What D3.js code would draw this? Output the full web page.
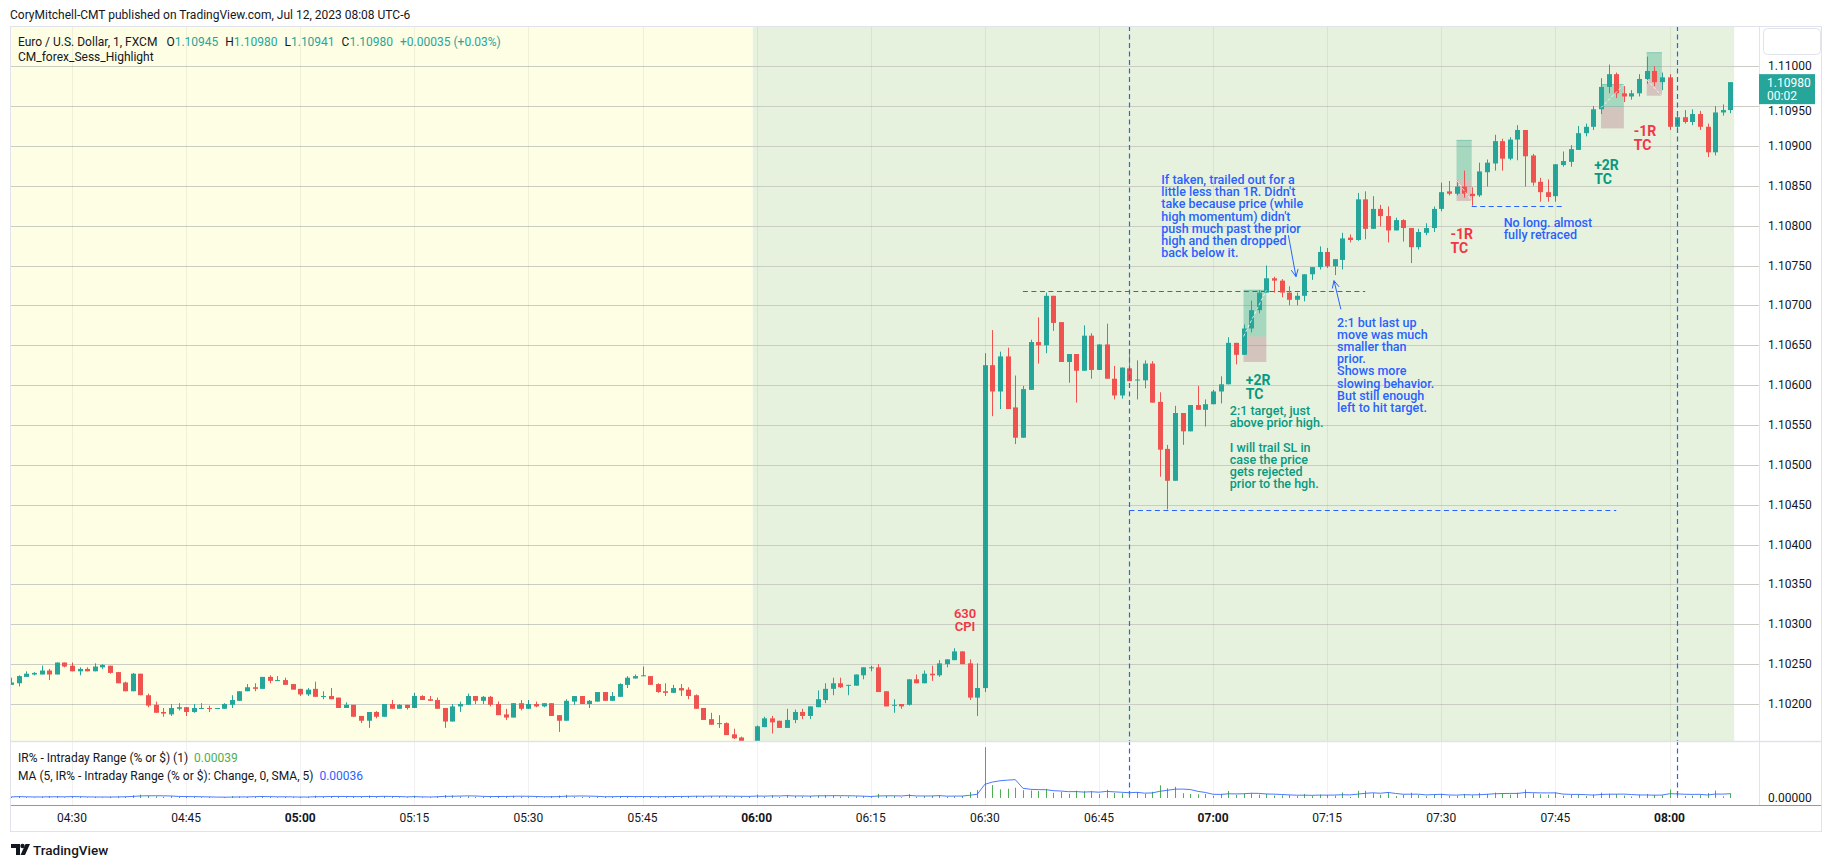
<!DOCTYPE html>
<html><head><meta charset="utf-8">
<script src="https://cdn.jsdelivr.net/npm/d3@7/dist/d3.min.js"></script>
<style>
html,body{margin:0;padding:0;background:#fff;}
svg{display:block;font-family:Roboto,"Liberation Sans",sans-serif;}
</style></head><body>
<svg id="chart" width="1835" height="867"></svg>
<script>
// ================= DATA =================
const barStart = "04:22"; // first 1-minute bar; bars are consecutive minutes
const opens = [
1.10224,1.10226,1.10234,1.10237,1.10237,1.10242,1.10237,1.10252,1.10248,1.10241,
1.10244,1.10241,1.10246,1.10248,1.10240,1.10227,1.10216,1.10238,1.10211,1.10199,
1.10190,1.10187,1.10194,1.10196,1.10190,1.10194,1.10195,1.10194,1.10194,1.10199,
1.10204,1.10216,1.10221,1.10219,1.10234,1.10229,1.10230,1.10225,1.10219,1.10212,
1.10219,1.10209,1.10210,1.10208,1.10195,1.10199,1.10185,1.10179,1.10190,1.10184,
1.10200,1.10194,1.10199,1.10195,1.10210,1.10206,1.10205,1.10195,1.10178,1.10197,
1.10199,1.10210,1.10204,1.10209,1.10200,1.10187,1.10183,1.10201,1.10194,1.10200,
1.10197,1.10201,1.10186,1.10179,1.10203,1.10210,1.10200,1.10203,1.10215,1.10204,
1.10209,1.10224,1.10232,1.10235,1.10235,1.10225,1.10216,1.10214,1.10220,1.10218,
1.10211,1.10195,1.10181,1.10175,1.10176,1.10162,1.10158,1.10150,1.10146,1.10171,
1.10182,1.10179,1.10170,1.10180,1.10190,1.10185,1.10196,1.10205,1.10219,1.10226,
1.10223,1.10223,1.10236,1.10245,1.10246,1.10216,1.10198,1.10200,1.10199,1.10231,
1.10226,1.10238,1.10236,1.10250,1.10255,1.10266,1.10251,1.10208,1.10220,1.10625,
1.10592,1.10636,1.10572,1.10534,1.10594,1.10654,1.10650,1.10712,1.10679,1.10629,
1.10639,1.10618,1.10662,1.10619,1.10651,1.10608,1.10587,1.10621,1.10606,1.10606,
1.10627,1.10579,1.10520,1.10480,1.10565,1.10542,1.10575,1.10569,1.10576,1.10592,
1.10601,1.10653,1.10638,1.10671,1.10694,1.10716,1.10734,1.10731,1.10716,1.10707,
1.10712,1.10739,1.10748,1.10767,1.10749,1.10757,1.10785,1.10782,1.10833,1.10796,
1.10821,1.10812,1.10794,1.10807,1.10797,1.10773,1.10791,1.10797,1.10821,1.10843,
1.10840,1.10849,1.10840,1.10838,1.10867,1.10878,1.10906,1.10884,1.10908,1.10920,
1.10888,1.10855,1.10842,1.10837,1.10876,1.10880,1.10895,1.10916,1.10924,1.10946,
1.10974,1.10990,1.10966,1.10962,1.10966,1.10984,1.10994,1.10980,1.10986,1.10924,
1.10936,1.10930,1.10940,1.10924,1.10892,1.10942,1.10945];
const highs = [
1.10233,1.10236,1.10241,1.10240,1.10248,1.10244,1.10252,1.10252,1.10252,1.10246,
1.10246,1.10251,1.10250,1.10248,1.10240,1.10228,1.10239,1.10238,1.10213,1.10203,
1.10195,1.10200,1.10201,1.10196,1.10200,1.10201,1.10198,1.10195,1.10201,1.10211,
1.10216,1.10225,1.10226,1.10234,1.10236,1.10235,1.10233,1.10225,1.10219,1.10220,
1.10228,1.10216,1.10220,1.10208,1.10202,1.10199,1.10185,1.10190,1.10191,1.10200,
1.10205,1.10200,1.10199,1.10214,1.10211,1.10210,1.10208,1.10195,1.10200,1.10203,
1.10213,1.10210,1.10210,1.10210,1.10203,1.10194,1.10201,1.10205,1.10205,1.10203,
1.10201,1.10201,1.10186,1.10206,1.10210,1.10210,1.10205,1.10215,1.10215,1.10215,
1.10226,1.10235,1.10237,1.10247,1.10235,1.10226,1.10226,1.10224,1.10225,1.10221,
1.10212,1.10195,1.10189,1.10186,1.10177,1.10169,1.10159,1.10152,1.10173,1.10184,
1.10185,1.10179,1.10194,1.10193,1.10194,1.10197,1.10217,1.10226,1.10233,1.10233,
1.10224,1.10237,1.10246,1.10248,1.10250,1.10216,1.10206,1.10200,1.10231,1.10237,
1.10242,1.10248,1.10255,1.10256,1.10270,1.10266,1.10256,1.10251,1.10640,1.10669,
1.10642,1.10647,1.10612,1.10599,1.10657,1.10685,1.10716,1.10712,1.10679,1.10639,
1.10639,1.10675,1.10665,1.10651,1.10677,1.10624,1.10622,1.10643,1.10631,1.10631,
1.10630,1.10591,1.10525,1.10574,1.10565,1.10575,1.10599,1.10582,1.10594,1.10611,
1.10660,1.10653,1.10676,1.10706,1.10719,1.10750,1.10736,1.10733,1.10724,1.10716,
1.10739,1.10748,1.10774,1.10772,1.10758,1.10791,1.10789,1.10841,1.10843,1.10837,
1.10826,1.10824,1.10810,1.10808,1.10797,1.10796,1.10803,1.10824,1.10854,1.10856,
1.10857,1.10869,1.10848,1.10879,1.10883,1.10914,1.10909,1.10911,1.10926,1.10920,
1.10890,1.10860,1.10858,1.10877,1.10893,1.10901,1.10925,1.10928,1.10950,1.10985,
1.11002,1.10992,1.10975,1.10970,1.10990,1.11012,1.11000,1.10992,1.10990,1.10940,
1.10945,1.10946,1.10944,1.10928,1.10950,1.10952,1.10980];
const lows = [
1.10224,1.10222,1.10234,1.10236,1.10237,1.10230,1.10237,1.10246,1.10241,1.10236,
1.10241,1.10241,1.10244,1.10238,1.10226,1.10216,1.10216,1.10211,1.10196,1.10189,
1.10184,1.10185,1.10192,1.10185,1.10189,1.10194,1.10190,1.10194,1.10194,1.10195,
1.10204,1.10216,1.10216,1.10219,1.10226,1.10229,1.10224,1.10218,1.10210,1.10210,
1.10209,1.10206,1.10206,1.10195,1.10195,1.10184,1.10176,1.10170,1.10182,1.10184,
1.10194,1.10194,1.10193,1.10195,1.10205,1.10204,1.10194,1.10170,1.10178,1.10190,
1.10199,1.10200,1.10200,1.10197,1.10186,1.10180,1.10183,1.10192,1.10194,1.10196,
1.10196,1.10185,1.10165,1.10179,1.10199,1.10200,1.10195,1.10203,1.10204,1.10204,
1.10209,1.10220,1.10232,1.10235,1.10224,1.10214,1.10210,1.10214,1.10210,1.10206,
1.10194,1.10180,1.10174,1.10170,1.10161,1.10156,1.10148,1.10140,1.10144,1.10171,
1.10163,1.10170,1.10170,1.10176,1.10181,1.10181,1.10196,1.10201,1.10211,1.10220,
1.10211,1.10223,1.10231,1.10241,1.10215,1.10197,1.10189,1.10194,1.10198,1.10226,
1.10226,1.10229,1.10234,1.10246,1.10255,1.10250,1.10205,1.10185,1.10215,1.10561,
1.10570,1.10570,1.10526,1.10534,1.10594,1.10627,1.10640,1.10668,1.10629,1.10603,
1.10578,1.10618,1.10608,1.10619,1.10608,1.10582,1.10583,1.10605,1.10582,1.10596,
1.10578,1.10485,1.10444,1.10480,1.10525,1.10542,1.10569,1.10548,1.10576,1.10577,
1.10601,1.10626,1.10638,1.10666,1.10690,1.10716,1.10716,1.10710,1.10700,1.10700,
1.10705,1.10732,1.10745,1.10747,1.10738,1.10745,1.10779,1.10781,1.10783,1.10796,
1.10799,1.10779,1.10794,1.10780,1.10753,1.10770,1.10788,1.10792,1.10818,1.10838,
1.10838,1.10835,1.10825,1.10836,1.10849,1.10869,1.10869,1.10882,1.10882,1.10849,
1.10850,1.10830,1.10830,1.10830,1.10874,1.10874,1.10895,1.10912,1.10920,1.10940,
1.10966,1.10960,1.10955,1.10958,1.10962,1.10978,1.10975,1.10970,1.10920,1.10918,
1.10928,1.10926,1.10920,1.10886,1.10888,1.10938,1.10941];
const closes = [
1.10227,1.10235,1.10238,1.10239,1.10242,1.10237,1.10252,1.10247,1.10241,1.10244,
1.10241,1.10247,1.10249,1.10239,1.10226,1.10216,1.10238,1.10211,1.10198,1.10189,
1.10188,1.10195,1.10196,1.10190,1.10195,1.10195,1.10194,1.10195,1.10200,1.10205,
1.10216,1.10221,1.10219,1.10234,1.10229,1.10230,1.10224,1.10218,1.10212,1.10218,
1.10209,1.10210,1.10206,1.10195,1.10199,1.10184,1.10179,1.10190,1.10184,1.10200,
1.10194,1.10199,1.10195,1.10210,1.10205,1.10204,1.10194,1.10178,1.10197,1.10200,
1.10210,1.10204,1.10209,1.10199,1.10186,1.10183,1.10201,1.10194,1.10200,1.10197,
1.10201,1.10185,1.10179,1.10204,1.10210,1.10200,1.10204,1.10215,1.10204,1.10210,
1.10225,1.10233,1.10235,1.10236,1.10224,1.10215,1.10214,1.10220,1.10217,1.10210,
1.10194,1.10180,1.10174,1.10176,1.10161,1.10157,1.10150,1.10146,1.10172,1.10182,
1.10177,1.10170,1.10180,1.10190,1.10185,1.10197,1.10206,1.10219,1.10226,1.10221,
1.10224,1.10237,1.10246,1.10246,1.10215,1.10197,1.10199,1.10197,1.10231,1.10226,
1.10238,1.10236,1.10251,1.10256,1.10266,1.10250,1.10208,1.10220,1.10625,1.10592,
1.10636,1.10570,1.10534,1.10595,1.10654,1.10650,1.10712,1.10678,1.10629,1.10639,
1.10618,1.10662,1.10619,1.10651,1.10608,1.10587,1.10622,1.10605,1.10607,1.10627,
1.10578,1.10519,1.10480,1.10565,1.10542,1.10575,1.10569,1.10576,1.10592,1.10601,
1.10653,1.10638,1.10671,1.10694,1.10716,1.10734,1.10731,1.10716,1.10707,1.10712,
1.10739,1.10748,1.10767,1.10749,1.10758,1.10784,1.10782,1.10833,1.10796,1.10821,
1.10812,1.10794,1.10807,1.10797,1.10773,1.10792,1.10797,1.10821,1.10842,1.10840,
1.10849,1.10840,1.10837,1.10868,1.10879,1.10906,1.10884,1.10908,1.10920,1.10887,
1.10854,1.10842,1.10836,1.10877,1.10881,1.10896,1.10916,1.10924,1.10946,1.10974,
1.10990,1.10966,1.10962,1.10966,1.10984,1.10994,1.10980,1.10986,1.10924,1.10936,
1.10930,1.10940,1.10924,1.10892,1.10942,1.10945,1.10980];

const timeTicks = ["04:30","04:45","05:00","05:15","05:30","05:45","06:00","06:15","06:30","06:45","07:00","07:15","07:30","07:45","08:00"];
const priceTicks = [1.102,1.1025,1.103,1.1035,1.104,1.1045,1.105,1.1055,1.106,1.1065,1.107,1.1075,1.108,1.1085,1.109,1.1095,1.11];

const sessionStart = ["04:22","06:00"];
const sessionEnd   = ["05:59","08:08"];

// long-position drawing tools
const posFrom   = ["07:04","07:32","07:51","07:57"];
const posTo     = ["07:07","07:34","07:54","07:59"];
const posEntry  = [1.10661,1.10857,1.10948,1.10983];
const posStop   = [1.10629,1.10831,1.10922,1.10963];
const posTarget = [1.10719,1.10907,1.10977,1.11017];
const posExit   = [1.10719,1.10831,1.10977,1.10963];

// dashed drawings
const hLineFrom  = ["06:35","06:49","07:34"];
const hLineTo    = ["07:20","07:53","07:46"];
const hLinePrice = [1.10718,1.10443,1.10825];
const vLineTimes = ["06:49","08:01"];

// text notes (anchored at time / price)
const noteLines = [
  ["630","CPI"],
  ["+2R","TC"],
  ["2:1 target, just","above prior high.","","I will trail SL in","case the price","gets rejected","prior to the hgh."],
  ["If taken, trailed out for a","little less than 1R. Didn't","take because price (while","high momentum) didn't","push much past the prior","high and then dropped","back below it."],
  ["2:1 but last up","move was much","smaller than","prior.","Shows more","slowing behavior.","But still enough","left to hit target."],
  ["-1R","TC"],
  ["No long. almost","fully retraced"],
  ["+2R","TC"],
  ["-1R","TC"]
];
const noteTimes  = ["06:27.4","07:04.3","07:02.2","06:53.2","07:16.3","07:31.2","07:38.2","07:50.1","07:55.3"];
const notePrices = [1.10314,1.10606,1.10568,1.10858,1.10679,1.10790,1.10804,1.10876,1.10919];
const noteKinds  = ["redC","tealL","tealT","blueT","blueT","redL","blueT","tealL","redL"];

const arrowFromTime  = ["07:09.9","07:16.8"];
const arrowFromPrice = [1.10788,1.10695];
const arrowToTime    = ["07:10.9","07:15.9"];
const arrowToPrice   = [1.10736,1.10731];

const countdown = "00:02";

// ================= DRAWING =================
const toMin = s => { const p = s.split(":"); return (+p[0])*60 + parseFloat(p[1]); };
const t0 = toMin(barStart);
const bars = opens.map((o,i)=>({m:t0+i,o:o,h:highs[i],l:lows[i],c:closes[i]}));

const COL = {up:"#26a69a", down:"#ef5350", sess:["#fefee5","#e6f2dd"], gridH:"#c9cdc3",
  gridV:"rgba(0,0,0,0.055)", text:"#131722", blue:"#2962ff", teal:"#089981", red:"#f23645",
  hist:"#4caf50", border:"#e0e3eb"};

const paneL=10, paneR=1759, paneT=26, paneB=741, indT=742, indB=805, axisR=1822, timeB=832;

const x  = d3.scaleLinear().domain([toMin("04:30"), toMin("08:00")]).range([72, 1669.5]);
const y  = d3.scaleLinear().domain([1.102, 1.110]).range([704, 66.2]);
const yi = d3.scaleLinear().domain([0, 0.0046]).range([798, 743]);
const step = x(toMin("04:31")) - x(toMin("04:30"));
const crisp = v => Math.round(v) + 0.5;

const svg = d3.select("#chart");
svg.append("rect").attr("width",1835).attr("height",867).attr("fill","#fff");
const defs = svg.append("defs");
defs.append("clipPath").attr("id","clipMain").append("rect")
  .attr("x",paneL).attr("y",paneT).attr("width",paneR-paneL).attr("height",paneB-paneT);
defs.append("clipPath").attr("id","clipInd").append("rect")
  .attr("x",paneL).attr("y",indT).attr("width",paneR-paneL).attr("height",indB-indT);
defs.append("clipPath").attr("id","clipAxis").append("rect")
  .attr("x",paneR).attr("y",paneT).attr("width",axisR-paneR).attr("height",indB-paneT);

// header
svg.append("text").attr("x",10).attr("y",15).attr("dominant-baseline","central")
  .attr("font-size",12).attr("fill",COL.text)
  .text("CoryMitchell-CMT published on TradingView.com, Jul 12, 2023 08:08 UTC-6");

const main = svg.append("g").attr("clip-path","url(#clipMain)");
// sessions
sessionStart.forEach((s,i)=>{
  const a = x(toMin(s)) - step/2, b = x(toMin(sessionEnd[i])) + step/2;
  main.append("rect").attr("x",a).attr("y",paneT).attr("width",b-a).attr("height",paneB-paneT)
    .attr("fill",COL.sess[i]);
});
// grid
timeTicks.forEach(t=>{
  svg.append("line").attr("x1",crisp(x(toMin(t)))).attr("x2",crisp(x(toMin(t))))
    .attr("y1",paneT).attr("y2",indB).attr("stroke",COL.gridV).attr("stroke-width",1);
});
priceTicks.forEach(p=>{
  main.append("line").attr("x1",paneL).attr("x2",paneR).attr("y1",crisp(y(p))).attr("y2",crisp(y(p)))
    .attr("stroke",COL.gridH).attr("stroke-width",1.2);
});

// position boxes
posFrom.forEach((f,i)=>{
  const a = x(toMin(f)), b = x(toMin(posTo[i]));
  main.append("rect").attr("x",a).attr("width",b-a).attr("y",y(posTarget[i]))
    .attr("height",y(posEntry[i])-y(posTarget[i])).attr("fill","rgba(44,168,136,0.35)");
  main.append("rect").attr("x",a).attr("width",b-a).attr("y",y(posEntry[i]))
    .attr("height",y(posStop[i])-y(posEntry[i])).attr("fill","rgba(173,89,119,0.3)");
  main.append("line").attr("x1",a).attr("x2",b).attr("y1",y(posTarget[i])).attr("y2",y(posTarget[i]))
    .attr("stroke","rgba(8,153,129,0.35)").attr("stroke-width",1);
});

// horizontal dashed lines
hLineFrom.forEach((f,i)=>{
  main.append("line").attr("x1",x(toMin(f))).attr("x2",x(toMin(hLineTo[i])))
    .attr("y1",crisp(y(hLinePrice[i]))).attr("y2",crisp(y(hLinePrice[i])))
    .attr("stroke",COL.blue).attr("stroke-width",1.2).attr("stroke-dasharray","5,3.5");
});

// candles
const cg = main.append("g");
bars.forEach(d=>{
  const cx = Math.round(x(d.m));
  const col = d.c >= d.o ? COL.up : COL.down;
  cg.append("line").attr("x1",cx+0.5).attr("x2",cx+0.5).attr("y1",y(d.h)).attr("y2",y(d.l))
    .attr("stroke",col).attr("stroke-width",1);
  const top = y(Math.max(d.o,d.c)), bot = y(Math.min(d.o,d.c));
  cg.append("rect").attr("x",cx-2).attr("width",5).attr("y",top).attr("height",Math.max(1,bot-top))
    .attr("fill",col);
});

// position tool diagonal lines
posFrom.forEach((f,i)=>{
  main.append("line").attr("x1",x(toMin(f))).attr("y1",y(posEntry[i]))
    .attr("x2",x(toMin(posTo[i]))).attr("y2",y(posExit[i]))
    .attr("stroke","rgba(255,255,255,0.8)").attr("stroke-width",1).attr("stroke-dasharray","3,2");
});

// vertical dashed lines
vLineTimes.forEach(t=>{
  svg.append("line").attr("x1",crisp(x(toMin(t)))).attr("x2",crisp(x(toMin(t))))
    .attr("y1",paneT).attr("y2",797).attr("stroke",COL.blue).attr("stroke-width",1.2)
    .attr("stroke-dasharray","5,3.5");
});

// notes
const KIND = {
  redC:{color:COL.red,size:13,weight:600,lh:13,anchor:"middle"},
  redL:{color:COL.red,size:14,weight:700,lh:14,anchor:"start"},
  tealL:{color:COL.teal,size:14,weight:700,lh:14,anchor:"start"},
  tealT:{color:COL.teal,size:12.5,weight:500,lh:12.2,anchor:"start"},
  blueT:{color:COL.blue,size:12.5,weight:500,lh:12.2,anchor:"start"}
};
noteLines.forEach((lines,i)=>{
  const k = KIND[noteKinds[i]];
  const nx = x(toMin(noteTimes[i])), ny = y(notePrices[i]);
  const t = main.append("text").attr("fill",k.color).attr("font-size",k.size)
    .attr("font-weight",k.weight).attr("text-anchor",k.anchor);
  lines.forEach((ln,j)=> t.append("tspan").attr("x",nx).attr("y",ny+j*k.lh)
    .attr("dominant-baseline","central").text(ln));
});

// arrows
arrowFromTime.forEach((f,i)=>{
  const x1=x(toMin(f)), y1=y(arrowFromPrice[i]), x2=x(toMin(arrowToTime[i])), y2=y(arrowToPrice[i]);
  main.append("line").attr("x1",x1).attr("y1",y1).attr("x2",x2).attr("y2",y2)
    .attr("stroke",COL.blue).attr("stroke-width",1);
  const ang = Math.atan2(y1-y2, x1-x2), L=8, sp=0.45;
  [ang-sp, ang+sp].forEach(a=>{
    main.append("line").attr("x1",x2).attr("y1",y2).attr("x2",x2+L*Math.cos(a)).attr("y2",y2+L*Math.sin(a))
      .attr("stroke",COL.blue).attr("stroke-width",1);
  });
});

// legend (main pane)
const last = bars[bars.length-1], prev = bars[bars.length-2];
const f5 = d3.format(".5f");
const chg = last.c - prev.c;
const lg = svg.append("text").attr("x",18).attr("y",42).attr("dominant-baseline","central")
  .attr("font-size",12).attr("fill",COL.text);
lg.append("tspan").text("Euro / U.S. Dollar, 1, FXCM");
[["O",last.o],["H",last.h],["L",last.l],["C",last.c]].forEach((p,i)=>{
  lg.append("tspan").attr("dx", i===0?9:7).attr("fill",COL.text).text(p[0]);
  lg.append("tspan").attr("fill",COL.up).text(f5(p[1]));
});
lg.append("tspan").attr("dx",7).attr("fill",COL.up)
  .text((chg>=0?"+":"")+f5(chg)+" ("+(chg>=0?"+":"")+d3.format(".2f")(chg/prev.c*100)+"%)");
svg.append("text").attr("x",18).attr("y",57).attr("dominant-baseline","central")
  .attr("font-size",12).attr("fill",COL.text).text("CM_forex_Sess_Highlight");

// ===== indicator pane =====
const ranges = bars.map(d=>d.h-d.l);
const ma = ranges.map((r,i)=> d3.mean(ranges.slice(Math.max(0,i-4), i+1)));
const ind = svg.append("g").attr("clip-path","url(#clipInd)");
bars.forEach((d,i)=>{
  const cx = crisp(x(d.m));
  ind.append("line").attr("x1",cx).attr("x2",cx).attr("y1",yi(0)).attr("y2",yi(ranges[i]))
    .attr("stroke",COL.hist).attr("stroke-width",1);
});
ind.append("path").datum(bars.map((d,i)=>[x(d.m), yi(ma[i])]))
  .attr("d", d3.line()).attr("fill","none").attr("stroke",COL.blue).attr("stroke-width",1).attr("opacity",0.85);
const il1 = svg.append("text").attr("x",18).attr("y",758).attr("dominant-baseline","central")
  .attr("font-size",12).attr("fill",COL.text);
il1.append("tspan").text("IR% - Intraday Range (% or $) (1)");
il1.append("tspan").attr("dx",6).attr("fill",COL.hist).text(f5(ranges[ranges.length-1]));
const il2 = svg.append("text").attr("x",18).attr("y",776).attr("dominant-baseline","central")
  .attr("font-size",12).attr("fill",COL.text);
il2.append("tspan").text("MA (5, IR% - Intraday Range (% or $): Change, 0, SMA, 5)");
il2.append("tspan").attr("dx",6).attr("fill",COL.blue).text(f5(ma[ma.length-1]));

// ===== borders =====
svg.append("line").attr("x1",paneL).attr("x2",axisR).attr("y1",741.5).attr("y2",741.5)
  .attr("stroke",COL.border).attr("stroke-width",1.5);
svg.append("line").attr("x1",paneL).attr("x2",axisR).attr("y1",805.5).attr("y2",805.5)
  .attr("stroke","#9598a1").attr("stroke-width",1);
svg.append("line").attr("x1",paneR+0.5).attr("x2",paneR+0.5).attr("y1",paneT).attr("y2",indB)
  .attr("stroke",COL.border).attr("stroke-width",1);
svg.append("rect").attr("x",paneL+0.5).attr("y",paneT+0.5).attr("width",axisR-paneL-1)
  .attr("height",timeB-paneT-1).attr("fill","none").attr("stroke",COL.border);
svg.append("rect").attr("x",1763.5).attr("y",28.5).attr("width",57).attr("height",26).attr("rx",4)
  .attr("fill","#fff").attr("stroke",COL.border);

// ===== price axis =====
const ly = y(last.c);
const boxTop = ly - 8, boxBot = ly + 22;
priceTicks.forEach(p=>{
  const py = y(p);
  // a tick label partly covered by the live price box is drawn only below the box edge
  const covered = py > boxTop - 6 && py < boxBot + 6;
  svg.append("text").attr("x",1768).attr("y", covered ? Math.max(py, boxBot + 7) : py)
    .attr("dominant-baseline","central").attr("font-size",12).attr("fill",COL.text).text(f5(p));
});
svg.append("text").attr("x",1768).attr("y",yi(0)).attr("dominant-baseline","central")
  .attr("font-size",12).attr("fill",COL.text).text(f5(0));
svg.append("rect").attr("x",paneR).attr("y",boxTop).attr("width",56).attr("height",30).attr("fill",COL.up);
svg.append("text").attr("x",1767).attr("y",ly+1).attr("dominant-baseline","central")
  .attr("font-size",12).attr("fill","#fff").text(f5(last.c));
svg.append("text").attr("x",1767).attr("y",ly+14).attr("dominant-baseline","central")
  .attr("font-size",12).attr("fill","#fff").text(countdown);

// ===== time axis =====
timeTicks.forEach(t=>{
  const full = t.endsWith(":00");
  svg.append("text").attr("x",x(toMin(t))).attr("y",818).attr("text-anchor","middle")
    .attr("dominant-baseline","central").attr("font-size",12)
    .attr("font-weight", full?700:400).attr("fill",COL.text).text(t);
});

// ===== TradingView logo =====
const lgG = svg.append("g").attr("fill",COL.text);
lgG.append("path").attr("d","M11 844h9v11h-4v-7h-5z");
lgG.append("circle").attr("cx",22.5).attr("cy",846).attr("r",2.2);
lgG.append("path").attr("d","M25.5 844h4.5l-5 11h-4.5z");
svg.append("text").attr("x",33).attr("y",849.5).attr("dominant-baseline","central")
  .attr("font-size",13.5).attr("font-weight",500).attr("fill",COL.text).text("TradingView");
</script>
</body></html>
